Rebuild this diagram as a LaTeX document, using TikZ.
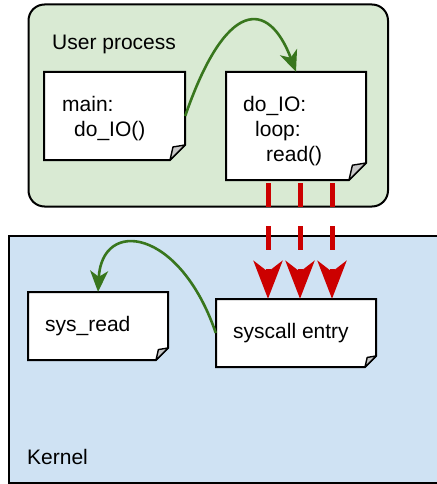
\documentclass[tikz,border=0pt]{standalone}
\usepackage{fontspec}
\setmainfont{Liberation Sans}
\usetikzlibrary{arrows.meta}

\definecolor{usrgreen}{HTML}{D9EAD3}
\definecolor{kernblue}{HTML}{CFE2F3}
\definecolor{flowgreen}{HTML}{38761D}
\definecolor{callred}{HTML}{CC0000}
\definecolor{foldgray}{HTML}{C8C8C8}

\tikzset{
  frameline/.style={draw=black, line width=2pt, line join=miter},
  notebody/.style={frameline, fill=white},
  notefold/.style={draw=black, line width=1.4pt, line join=round, fill=foldgray},
  noteframe/.style={rectangle, inner sep=0pt, draw=none},
  txt/.style={anchor=base west, inner sep=0pt, font=\fontsize{21}{25}\selectfont},
  callflow/.style={draw=flowgreen, line width=2.6pt,
    -{Stealth[length=21pt, width=18pt, inset=6pt]}},
  trap/.style={draw=callred, line width=5pt, dash pattern=on 24pt off 19pt,
    -{Stealth[length=38pt, width=29pt, inset=11pt]}},
}

% A note with its lower right corner folded over:
% name, x1, y1, x2, y2, fold size
\newcommand\foldnote[6]{%
  \path[notebody] (#2,#3) -- (#4,#3) -- (#4,{#5-#6}) -- ({#4-#6},#5) -- (#2,#5) -- cycle;
  \path[notefold] ({#4-#6},#5) -- (#4,{#5-#6}) -- ({#4-0.8*#6},{#5-0.87*#6}) -- cycle;
  \pgfmathsetmacro\notew{#4-#2}%
  \pgfmathsetmacro\noteh{#5-#3}%
  \node[noteframe, minimum width=\notew pt, minimum height=\noteh pt]
    (#1) at ({(#2+#4)/2},{(#3+#5)/2}) {};
}

\begin{document}
\begin{tikzpicture}[x=1pt, y=-1pt]
  \useasboundingbox (0,0) rectangle (436,484);

  % kernel space
  \path[frameline, fill=kernblue] (8.5,235.5) rectangle (446,483);
  % user space
  \path[frameline, fill=usrgreen, rounded corners=16pt] (28.5,4.5) rectangle (388,206.5);

  \node[txt] (usrlabel) at (52,50) {User process};
  \node[txt] (kernlabel) at (27,464) {Kernel};

  % code blocks
  \foldnote{main}{44}{72}{185}{160}{15}
  \foldnote{doio}{226}{72}{366}{180}{17}
  \foldnote{sysread}{28}{292}{168}{360}{12}
  \foldnote{entry}{216}{299}{376}{367}{11}

  \node[txt] (t1) at (62,111) {main:};
  \node[txt] (t2) at (74,136) {do\_IO()};
  \node[txt] (t3) at (243,111) {do\_IO:};
  \node[txt] (t4) at (255,136) {loop:};
  \node[txt] (t5) at (266,161) {read()};
  \node[txt] (t6) at (45,331) {sys\_read};
  \node[txt] (t7) at (233,338) {syscall entry};

  % function calls
  \draw[callflow] (main.east) .. controls +(40,-116) and ([shift={(-28,-74)}]doio.north) .. (doio.north);
  \draw[callflow] (entry.west) .. controls +(-36,-105) and ([shift={(4,-74)}]sysread.north) .. (sysread.north);

  % traps into the kernel
  \coordinate (r1) at (268,183);
  \coordinate (r2) at (300,183);
  \coordinate (r3) at (332,183);
  \draw[trap] (r1) -- (r1 |- entry.north);
  \draw[trap] (r2) -- (r2 |- entry.north);
  \draw[trap] (r3) -- (r3 |- entry.north);
\end{tikzpicture}
\end{document}
